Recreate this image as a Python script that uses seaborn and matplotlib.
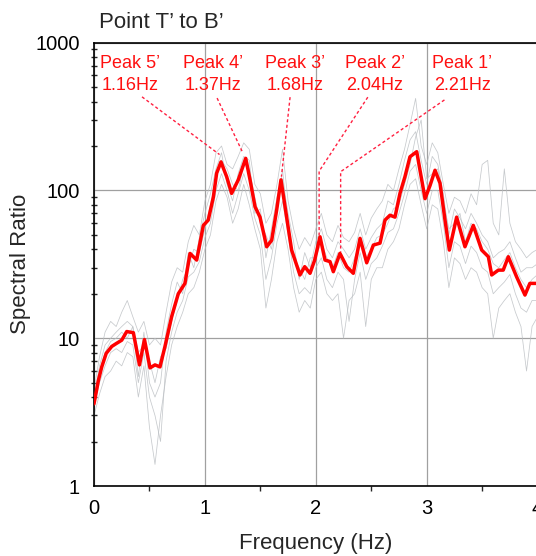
import numpy as np
import pandas as pd
import matplotlib
matplotlib.use("Agg")
import matplotlib.pyplot as plt
import seaborn as sns
from matplotlib.ticker import LogLocator, NullFormatter, FixedLocator

# ---------------- data ----------------
# mean spectral ratio (red)
red_freq = [0.00, 0.04, 0.07, 0.11, 0.16, 0.20, 0.25, 0.295, 0.355, 0.41, 0.455, 0.505,
            0.55, 0.595, 0.64, 0.70, 0.76, 0.82, 0.866, 0.926, 0.986, 1.03, 1.076, 1.106,
            1.145, 1.196, 1.241, 1.301, 1.368, 1.407, 1.452, 1.497, 1.557, 1.602, 1.647,
            1.686, 1.737, 1.782, 1.857, 1.90, 1.948, 1.99, 2.038, 2.083, 2.128, 2.158,
            2.218, 2.279, 2.338, 2.399, 2.459, 2.519, 2.579, 2.624, 2.669, 2.714, 2.759,
            2.804, 2.849, 2.91, 2.985, 3.03, 3.075, 3.12, 3.165, 3.204, 3.27, 3.345, 3.42,
            3.496, 3.556, 3.586, 3.646, 3.69, 3.736, 3.811, 3.886, 3.93, 4.0, 4.05]
red_vals = [3.6, 5.2, 6.4, 7.9, 8.8, 9.2, 9.7, 11.1, 10.9, 6.6, 9.8, 6.3,
            6.6, 6.4, 8.8, 14, 20, 23.5, 37.5, 33.8, 58, 63, 90, 131,
            156, 124, 95.6, 118, 165, 118, 77.6, 66, 41.6, 46, 73.7,
            118, 66, 39.5, 26.8, 30.5, 27.5, 33.8, 48.6, 33.8, 33, 28.2,
            37.5, 30.5, 27.5, 47.4, 32.4, 42.7, 44, 63, 68, 66, 95.6,
            124, 169, 183, 88, 108, 137, 112, 63, 39.5, 66, 41.6, 58,
            39.5, 35.6, 26.8, 28.9, 28.9, 35.6, 26, 19.6, 23.5, 23.5, 23]

# individual measurements (grey), sampled every 0.05 Hz from 0 to 4.05
grey_freq = [round(0.05 * i, 2) for i in range(82)]
grey_a = [4.5, 7.5, 11, 13, 12, 15, 18, 14, 11, 13, 9, 10, 9, 15, 24, 30, 28, 45, 58, 50,
          85, 110, 180, 200, 150, 140, 170, 210, 190, 110, 95, 60, 70, 110, 190, 85, 55, 40, 48, 42,
          55, 70, 50, 45, 58, 48, 45, 52, 70, 50, 65, 75, 85, 110, 100, 140, 190, 280, 420, 200,
          150, 210, 180, 110, 70, 90, 85, 70, 95, 80, 150, 160, 60, 50, 140, 60, 45, 40, 35, 38,
          40, 42]
grey_b = [3.0, 4.2, 5.5, 6.0, 7.0, 6.5, 8.0, 7.5, 4.0, 6.5, 2.5, 1.4, 3.0, 5.5, 9, 12, 15, 20, 22, 28,
          40, 50, 85, 110, 90, 60, 75, 110, 80, 55, 40, 16, 25, 45, 60, 40, 22, 15, 18, 16,
          25, 28, 20, 18, 20, 10, 18, 20, 28, 12, 25, 30, 30, 40, 45, 55, 80, 110, 120, 80,
          55, 80, 75, 45, 22, 35, 32, 25, 30, 28, 22, 20, 10, 16, 18, 20, 15, 12, 6, 12,
          14, 13]
grey_c = [4.0, 6.5, 9.0, 10, 11, 12, 13, 12, 5.5, 11, 5.0, 4.0, 5.0, 11, 17, 24, 20, 38, 30, 48,
          70, 95, 140, 180, 110, 85, 130, 170, 160, 70, 75, 35, 55, 90, 120, 70, 45, 25, 38, 30,
          45, 55, 40, 35, 45, 40, 35, 40, 55, 40, 48, 55, 60, 85, 80, 110, 160, 220, 250, 160,
          110, 170, 150, 95, 50, 75, 65, 55, 70, 60, 50, 45, 35, 38, 40, 45, 35, 28, 30, 30,
          32, 30]
grey_d = [3.5, 5.0, 6.5, 8.0, 8.5, 8.0, 9.5, 9.0, 5.0, 8.0, 4.0, 3.0, 2.0, 7.0, 11, 15, 18, 26, 28, 33,
          48, 60, 100, 130, 100, 70, 95, 130, 100, 65, 50, 25, 35, 60, 85, 50, 28, 20, 22, 20,
          30, 35, 25, 22, 28, 25, 13, 25, 38, 25, 32, 35, 42, 52, 55, 70, 95, 135, 150, 100,
          70, 100, 100, 60, 30, 45, 42, 32, 42, 38, 30, 28, 20, 22, 24, 27, 20, 16, 15, 18,
          18, 17]
grey_e = [3.8, 6.0, 8.0, 9.5, 10, 11, 10, 12, 8.0, 9.0, 7.0, 5.0, 7.5, 8.5, 13, 18, 25, 30, 40, 38,
          55, 80, 120, 160, 140, 110, 100, 150, 140, 90, 60, 50, 40, 70, 140, 55, 35, 30, 25, 35,
          35, 45, 35, 30, 38, 30, 28, 35, 45, 35, 40, 48, 50, 60, 75, 80, 110, 150, 230, 300,
          120, 130, 140, 85, 55, 60, 70, 45, 60, 55, 45, 40, 32, 30, 34, 38, 30, 25, 22, 25,
          27, 26]

peak_names = ["Peak 5’", "Peak 4’", "Peak 3’", "Peak 2’", "Peak 1’"]
peak_freqs = ["1.16Hz", "1.37Hz", "1.68Hz", "2.04Hz", "2.21Hz"]
label_x = [0.325, 1.07, 1.81, 2.53, 3.32]          # label centres (Hz)
leader_start = [(0.433, 430), (1.11, 422), (1.768, 428), (2.469, 428), (3.16, 410)]
leader_path = [[(1.132, 175)], [(1.343, 179)], [(1.69, 124)],
               [(2.03, 135), (2.03, 50)], [(2.224, 134), (2.224, 38.5)]]

# ---------------- style ----------------
sns.set_style("white")
plt.rcParams["font.family"] = ["Liberation Sans", "DejaVu Sans"]

W, H = 536, 556
fig = plt.figure(figsize=(W / 100, H / 100), dpi=100)
px_per_hz = 110.9
xmax = 4.5
ax = fig.add_axes([94 / W, 1 - 486 / H, xmax * px_per_hz / W, (486 - 42.7) / H])

grey_df = pd.DataFrame({"freq": grey_freq * 5,
                        "ratio": grey_a + grey_b + grey_c + grey_d + grey_e,
                        "run": sum([[k] * len(grey_freq) for k in "abcde"], [])})
sns.lineplot(data=grey_df, x="freq", y="ratio", units="run", estimator=None,
             color="#b8bcc0", linewidth=0.55, alpha=0.8, ax=ax, zorder=2)
sns.lineplot(x=red_freq, y=red_vals, color="#ff0000", linewidth=2.5, ax=ax, zorder=4)

ax.set_yscale("log")
ax.set_ylim(1, 1000)
ax.set_xlim(0, xmax)
ax.xaxis.set_major_locator(FixedLocator([0, 1, 2, 3, 4]))
ax.xaxis.set_minor_locator(FixedLocator([0.5, 1.5, 2.5, 3.5]))
ax.yaxis.set_major_locator(FixedLocator([1, 10, 100, 1000]))
ax.yaxis.set_minor_locator(LogLocator(base=10, subs=np.arange(2, 10)))
ax.yaxis.set_minor_formatter(NullFormatter())
ax.set_yticklabels(["1", "10", "100", "1000"])
ax.set_xticklabels(["0", "1", "2", "3", "4"])

ax.grid(True, which="major", color="#a0a0a0", linewidth=0.9, zorder=1)
ax.set_axisbelow(True)
for s in ["left", "bottom", "top"]:
    ax.spines[s].set_color("black")
    ax.spines[s].set_linewidth(1.2)
ax.spines["right"].set_visible(False)

ax.tick_params(axis="both", which="major", direction="out", length=5.5, width=1.1,
               labelsize=14.5, colors="black", pad=3.5)
ax.tick_params(axis="y", which="major", length=6.5)
ax.tick_params(axis="y", which="minor", direction="inout", length=4, width=1.0, left=True)
ax.tick_params(axis="x", which="minor", direction="out", length=3.5, width=1.0, bottom=True)

ax.set_xlabel("Frequency (Hz)", fontsize=16)
ax.set_ylabel("Spectral Ratio", fontsize=16)
ax.xaxis.set_label_coords((315.5 - 94) / (xmax * px_per_hz), -0.106)
ax.yaxis.set_label_coords((31 - 94) / (xmax * px_per_hz), 0.5)

fig.text(99 / W, 1 - 28 / H, "Point T’ to B’", fontsize=16, ha="left", va="baseline")

# peak annotations
for name, fq, lx, st, path in zip(peak_names, peak_freqs, label_x, leader_start, leader_path):
    ax.text(lx, 10 ** ((486 - 63) / 147.8), name, color="#ff1010", fontsize=13,
            ha="center", va="center", zorder=6)
    ax.text(lx, 10 ** ((486 - 85) / 147.8), fq, color="#ff1010", fontsize=13,
            ha="center", va="center", zorder=6)
    xs = [st[0]] + [p[0] for p in path]
    ys = [st[1]] + [p[1] for p in path]
    ax.plot(xs, ys, color="#ff2040", linewidth=1.0, linestyle=(0, (2.2, 1.8)), zorder=5)

fig.savefig("out.png", dpi=100)
